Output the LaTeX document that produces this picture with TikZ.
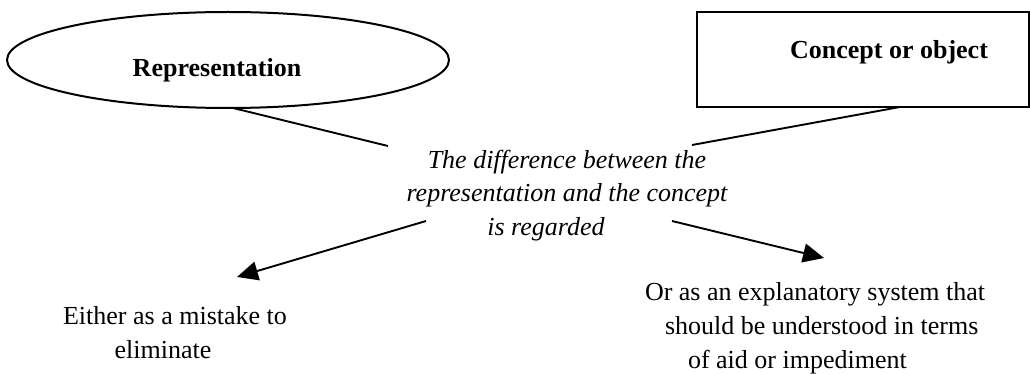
\documentclass[tikz,border=0pt]{standalone}
\usepackage{fontspec}
\setmainfont{Liberation Serif}
\usetikzlibrary{shapes.geometric,arrows.meta,calc}
\begin{document}
\begin{tikzpicture}[x=1pt,y=-1pt,
  every node/.style={inner sep=0pt,outer sep=0pt},
  txt/.style={font=\fontsize{26}{34}\selectfont},
  btxt/.style={font=\fontsize{26}{34}\selectfont\bfseries},
  itxt/.style={font=\fontsize{26}{33.5}\selectfont\itshape},
  shapeline/.style={draw,line width=2pt},
  conn/.style={line width=1.9pt},
  arr/.style={conn,-{Triangle[length=21pt,width=19pt]}}]
\useasboundingbox (0,0) rectangle (1030,374);
% top shapes
\node[ellipse,shapeline,minimum width=442pt,minimum height=96pt] (rep) at (228,60) {};
\node[btxt,anchor=base] (replabel) at (217,77) {Representation};
\node[rectangle,shapeline,minimum width=332pt,minimum height=95pt] (con) at (863,59.5) {};
\node[btxt,anchor=base] (conlabel) at (889,59) {Concept or object};
% middle text
\node[itxt,align=center,anchor=north] (mid) at (567,150) {The difference between the\\representation and the concept\\is regarded\hspace*{42pt}};
\coordinate (m1) at (388,146);
\coordinate (m2) at (692,145);
\draw[conn] ($(rep.south)+(5,0)$) -- (m1);
\draw[conn] ($(con.south)+(37,0)$) -- (m2);
% bottom texts
\node[txt,align=center,anchor=north] (left) at (175,306) {Either as a mistake to\\eliminate\hspace*{24pt}};
\node[txt,align=left,anchor=north west] (right) at (645,282) {Or as an explanatory system that\\\hspace*{20pt}should be understood in terms\\\hspace*{43pt}of aid or impediment};
% arrows
\coordinate (a1s) at (426,221);
\coordinate (a2s) at (672,221);
\coordinate (t1) at (237,277);
\coordinate (t2) at (824,258);
\draw[arr] (a1s) -- (t1);
\draw[arr] (a2s) -- (t2);
\end{tikzpicture}
\end{document}
